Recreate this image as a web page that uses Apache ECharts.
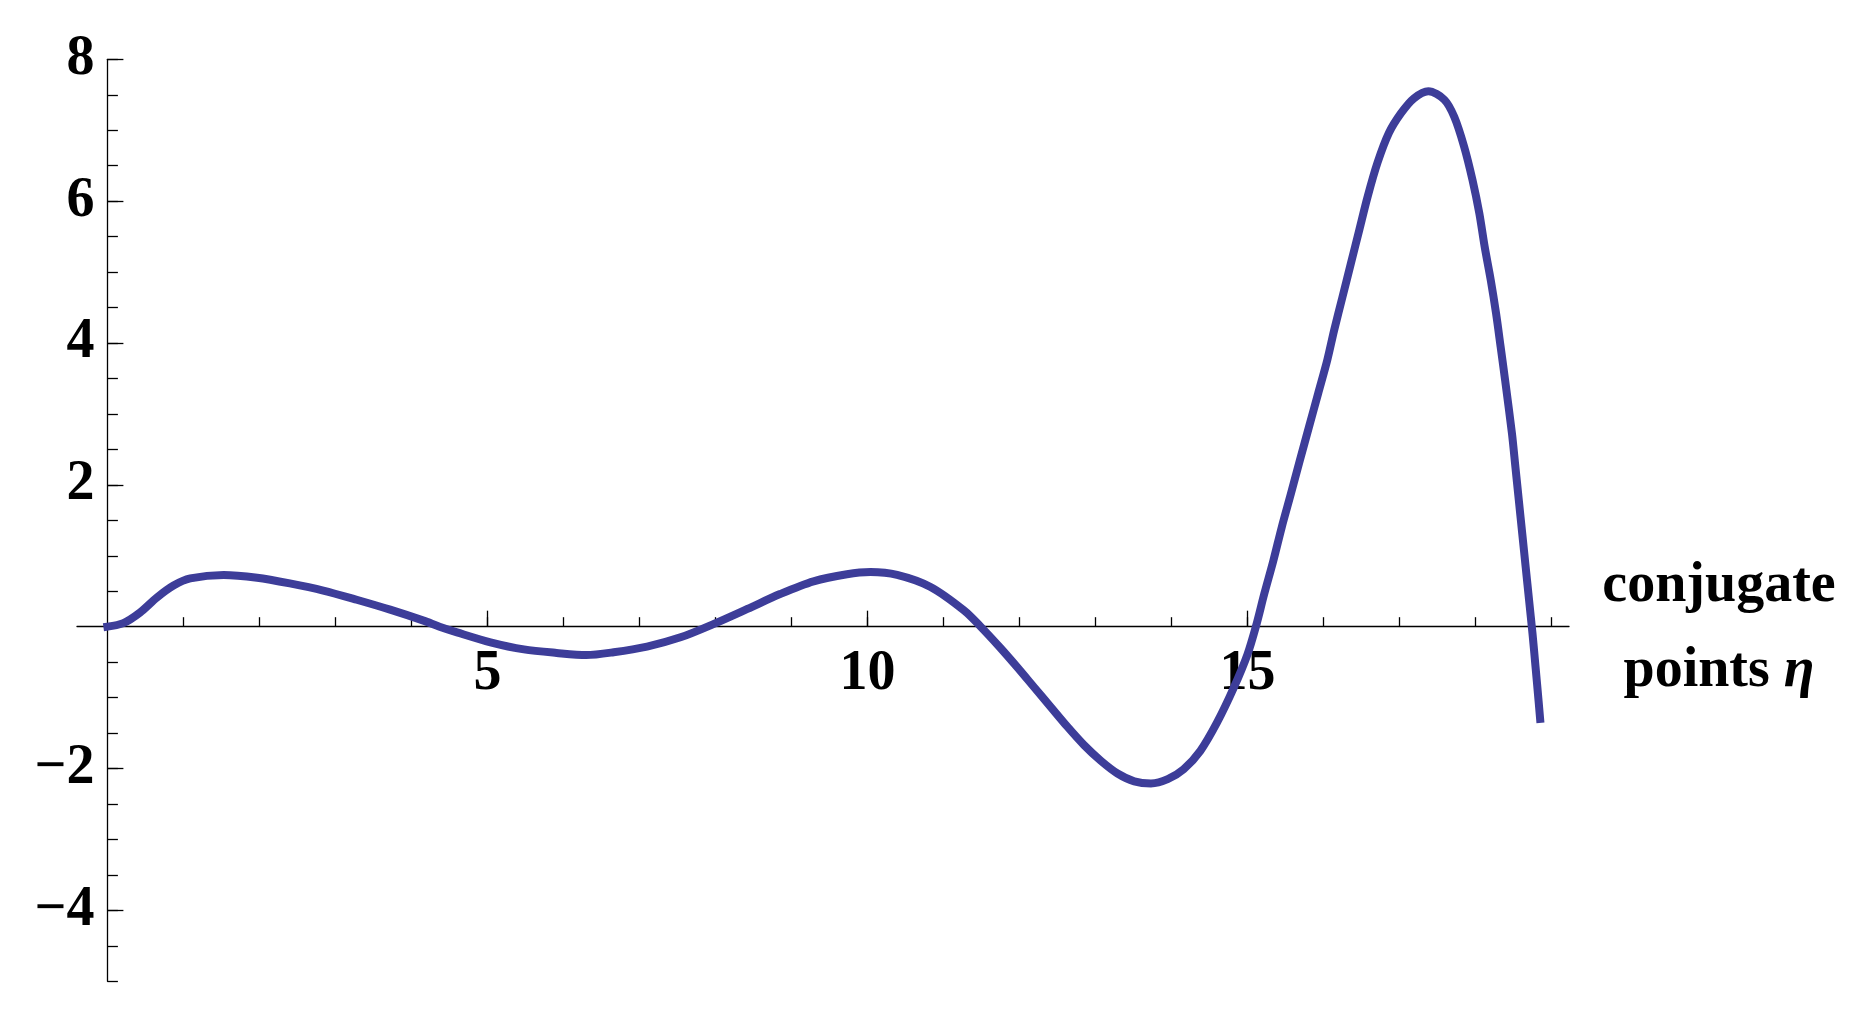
<!DOCTYPE html>
<html>
<head>
<meta charset="utf-8">
<title>conjugate points</title>
<script src="https://cdn.jsdelivr.net/npm/echarts@6/dist/echarts.min.js"></script>
<style>
  html, body { margin: 0; padding: 0; background: #fff; }
  #main { width: 1857px; height: 1021px; }
</style>
</head>
<body>
<div id="main"></div>
<script>
// curve
const etaValues = [
  0.00, 0.21, 0.43, 0.65, 0.87, 1.09, 1.53, 1.97, 2.40, 2.84,
  3.28, 3.72, 4.16, 4.37, 4.60, 5.04, 5.48, 5.91, 6.30, 6.66,
  7.10, 7.54, 7.98, 8.42, 8.85, 9.29, 9.73, 10.04, 10.39, 10.83,
  11.27, 11.49, 11.75, 11.97, 12.19, 12.41, 12.63, 12.85, 13.07, 13.29,
  13.51, 13.73, 13.95, 14.16, 14.38, 14.60, 14.82, 15.00, 15.11, 15.22,
  15.34, 15.45, 15.57, 15.69, 15.81, 15.93, 16.05, 16.14, 16.25, 16.36,
  16.47, 16.58, 16.71, 16.86, 17.02, 17.19, 17.38, 17.59, 17.72, 17.85,
  17.96, 18.05, 18.12, 18.20, 18.27, 18.33, 18.39, 18.48, 18.525, 18.57,
  18.615, 18.66, 18.705, 18.75, 18.79, 18.83, 18.85
];
const curveValues = [
  0.00, 0.05, 0.20, 0.41, 0.58, 0.68, 0.73, 0.69, 0.61, 0.51,
  0.38, 0.24, 0.085, 0.00, -0.08, -0.22, -0.32, -0.37, -0.40, -0.36,
  -0.28, -0.15, 0.04, 0.25, 0.46, 0.64, 0.74, 0.77, 0.73, 0.56,
  0.23, 0.00, -0.30, -0.57, -0.85, -1.13, -1.41, -1.67, -1.89, -2.07,
  -2.18, -2.21, -2.15, -2.01, -1.75, -1.35, -0.86, -0.39, 0.00, 0.46,
  0.93, 1.40, 1.87, 2.35, 2.82, 3.29, 3.76, 4.18, 4.65, 5.12,
  5.59, 6.06, 6.54, 6.96, 7.24, 7.45, 7.55, 7.43, 7.19, 6.77,
  6.30, 5.83, 5.36, 4.89, 4.42, 3.95, 3.47, 2.72, 2.25, 1.78,
  1.31, 0.84, 0.37, -0.10, -0.57, -1.05, -1.30
];

const xMajorTicks = [5, 10, 15];
const xMinorTicks = [1, 2, 3, 4, 5, 6, 7, 8, 9, 10, 11, 12, 13, 14, 15, 16, 17, 18, 19];
const yMajorTicks = [-4, -2, 2, 4, 6, 8];
const yMinorTicks = [-5, -4.5, -4, -3.5, -3, -2.5, -2, -1.5, -1, -0.5, 0.5, 1, 1.5, 2,
  2.5, 3, 3.5, 4, 4.5, 5, 5.5, 6, 6.5, 7, 7.5, 8];

const xMin = -0.4, xMax = 19.23;
const yMin = -5, yMax = 8;

const W = 1857, H = 1021;
const gridLeft = 77, gridRight = 288, gridTop = 59.3, gridBottom = 39.7;
const plotW = W - gridLeft - gridRight;
const plotH = H - gridTop - gridBottom;

// axes sit on zero, but echarts keeps their labels at the grid edge;
// pull the labels back next to the axis lines
const zeroFromLeft = plotW * (0 - xMin) / (xMax - xMin);
const zeroFromBottom = plotH * (0 - yMin) / (yMax - yMin);
const xLabelMargin = 20 - zeroFromBottom;
const yLabelMargin = 13 - zeroFromLeft;

const serif = "'Liberation Serif', 'Times New Roman', serif";
const axisColor = '#000';
const labelFont = { color: '#000', fontFamily: serif, fontWeight: 'bold', fontSize: 56 };

const points = etaValues.map((x, i) => [x, curveValues[i]]);

const chart = echarts.init(document.getElementById('main'));
chart.setOption({
  animation: false,
  backgroundColor: '#fff',
  grid: {
    left: gridLeft,
    right: gridRight,
    top: gridTop,
    bottom: gridBottom,
    containLabel: false,
    outerBoundsMode: 'none'
  },
  xAxis: [
    {
      type: 'value',
      min: xMin,
      max: xMax,
      position: 'bottom',
      axisLine: { onZero: true, onZeroAxisIndex: 0, lineStyle: { color: axisColor, width: 1.3 } },
      axisTick: { inside: true, length: 16, customValues: xMajorTicks, lineStyle: { color: axisColor, width: 1.3 } },
      axisLabel: Object.assign({ customValues: xMajorTicks, margin: xLabelMargin }, labelFont),
      splitLine: { show: false },
      name: '{a|conjugate}\n{a|points }{i|η}',
      nameLocation: 'end',
      nameGap: 150,
      nameTextStyle: {
        align: 'center',
        verticalAlign: 'middle',
        lineHeight: 85,
        padding: [4, 0, 0, 0],
        rich: {
          a: { fontFamily: serif, fontWeight: 'bold', fontSize: 56, lineHeight: 85, color: '#000', align: 'center' },
          i: { fontFamily: serif, fontWeight: 'bold', fontStyle: 'italic', fontSize: 56, lineHeight: 85, color: '#000', align: 'center' }
        }
      }
    },
    {
      // minor ticks only
      type: 'value',
      min: xMin,
      max: xMax,
      position: 'top',
      axisLine: { show: false, onZero: true, onZeroAxisIndex: 0 },
      axisTick: { inside: false, length: 9.5, customValues: xMinorTicks, lineStyle: { color: axisColor, width: 1.3 } },
      axisLabel: { show: false },
      splitLine: { show: false }
    }
  ],
  yAxis: [
    {
      type: 'value',
      min: yMin,
      max: yMax,
      position: 'left',
      axisLine: { onZero: true, onZeroAxisIndex: 0, lineStyle: { color: axisColor, width: 1.3 } },
      axisTick: { inside: true, length: 16, customValues: yMajorTicks, lineStyle: { color: axisColor, width: 1.3 } },
      axisLabel: Object.assign({
        customValues: yMajorTicks,
        margin: yLabelMargin,
        formatter: (v) => String(v).replace('-', '\u2212')
      }, labelFont),
      splitLine: { show: false }
    },
    {
      type: 'value',
      min: yMin,
      max: yMax,
      position: 'right',
      axisLine: { show: false, onZero: true, onZeroAxisIndex: 0 },
      axisTick: { inside: false, length: 10.5, customValues: yMinorTicks, lineStyle: { color: axisColor, width: 1.3 } },
      axisLabel: { show: false },
      splitLine: { show: false }
    }
  ],
  series: [
    {
      type: 'line',
      xAxisIndex: 0,
      yAxisIndex: 0,
      data: points,
      showSymbol: false,
      smooth: 0.3,
      clip: false,
      lineStyle: { color: '#3d3d99', width: 8, cap: 'square', join: 'round' }
    }
  ]
});
</script>
</body>
</html>
